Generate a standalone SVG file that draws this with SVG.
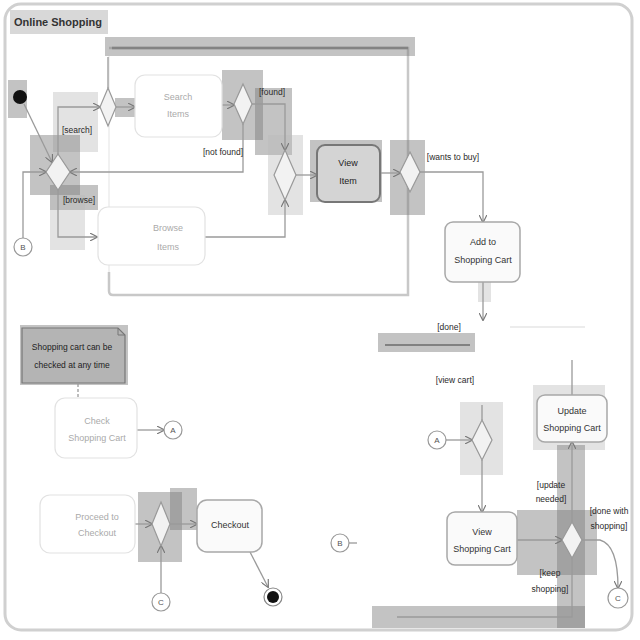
<svg xmlns="http://www.w3.org/2000/svg" width="640" height="640" viewBox="0 0 640 640">
  <style>
    text { font-family: "Liberation Sans", Arial, sans-serif; font-size: 9px; fill: #555; text-anchor: middle; }
    .guard { font-size: 8.5px; fill: #2a2a2a; }
    .faintText { fill: #aaa; }
    .act { fill: #fafafa; stroke: #a8a8a8; stroke-width: 1.5; }
    .actFaint { fill: #fff; stroke: #e2e2e2; stroke-width: 1.2; }
    .dec { fill: #f2f2f2; stroke: #999; stroke-width: 1.2; }
    .flow { fill: none; stroke: #9a9a9a; stroke-width: 1.3; }
    .region { fill: none; stroke: #c8c8c8; stroke-width: 2.5; }
    .conn { fill: #fff; stroke: #999; stroke-width: 1.2; }
    .patch { fill: #7a7a7a; fill-opacity: 0.45; }
    .patchLight { fill: #b8b8b8; fill-opacity: 0.4; }
  </style>
  <defs>
    <marker id="arrow" viewBox="0 0 10 10" refX="9" refY="5" markerWidth="6" markerHeight="6" orient="auto-start-reverse">
      <path d="M0,0 L10,5 L0,10" fill="none" stroke="#777" stroke-width="1.5"/>
    </marker>
  </defs>

  <rect width="640" height="640" fill="#fff"/>

  <!-- activity frame -->
  <g id="frame">
    <rect x="5" y="4" width="627" height="626" rx="16" fill="none" stroke="#d0d0d0" stroke-width="3"/>
    <rect x="10" y="10" width="98" height="24" fill="#d8d8d8"/>
    <text x="58" y="26" style="font-weight:bold;font-size:11px;fill:#333">Online Shopping</text>
  </g>

  <!-- activity regions -->
  <g id="regions">
    <path class="region" d="M109,48 H408 V295 H113 Q109,295 109,291 V272"/>
    <path d="M109,272 V56" fill="none" stroke="#ececec" stroke-width="1.5"/>
    <line x1="112" y1="48" x2="408" y2="48" stroke="#8a8a8a" stroke-width="2.5"/>
    <line x1="385" y1="345" x2="470" y2="345" stroke="#888" stroke-width="2"/>
    <line x1="510" y1="327" x2="585" y2="327" stroke="#e6e6e6" stroke-width="1.5"/>
  </g>

  <!-- highlight patches -->
  <g id="patches">
    <rect class="patch" x="105" y="37" width="310" height="19"/>
    <rect class="patch" x="8" y="80" width="19" height="38"/>
    <rect class="patchLight" x="53" y="92" width="45" height="60"/>
    <rect class="patch" x="30" y="135" width="50" height="60"/>
    <rect class="patch" x="50" y="185" width="48" height="25"/>
    <rect class="patchLight" x="50" y="195" width="35" height="55"/>
    <rect class="patch" x="115" y="98" width="25" height="19"/>
    <rect class="patch" x="222" y="70" width="41" height="70"/>
    <rect class="patch" x="255" y="88" width="37" height="67"/>
    <rect class="patchLight" x="268" y="135" width="35" height="80"/>
    <rect class="patch" x="310" y="140" width="72" height="62"/>
    <rect class="patch" x="390" y="140" width="35" height="75"/>
    <rect class="patch" x="20" y="325" width="108" height="60"/>
    <rect class="patch" x="138" y="492" width="44" height="70"/>
    <rect class="patch" x="170" y="488" width="27" height="42"/>
    <rect class="patch" x="378" y="333" width="97" height="19"/>
    <rect class="patchLight" x="460" y="402" width="43" height="73"/>
    <rect class="patchLight" x="533" y="385" width="72" height="65"/>
    <rect class="patch" x="517" y="510" width="80" height="65"/>
    <rect class="patch" x="557" y="445" width="28" height="183"/>
    <rect class="patch" x="372" y="606" width="213" height="22"/>
    <rect class="patchLight" x="478" y="282" width="13" height="20"/>
  </g>

  <!-- connectors -->
  <g id="connectors">
    <path class="flow" d="M24,104 L52,162" marker-end="url(#arrow)"/>
    <path class="flow" d="M23,238 V172 H46" marker-end="url(#arrow)"/>
    <path class="flow" d="M58,154 V107 H100" marker-end="url(#arrow)"/>
    <path class="flow" d="M108,88 V57"/>
    <path class="flow" d="M116,107 H135" marker-end="url(#arrow)"/>
    <path class="flow" d="M222,105 H234" marker-end="url(#arrow)"/>
    <path class="flow" d="M252,104 H285 V150" marker-end="url(#arrow)"/>
    <path class="flow" d="M243,124 V172 H70" marker-end="url(#arrow)"/>
    <path class="flow" d="M58,190 V237 H97" marker-end="url(#arrow)"/>
    <path class="flow" d="M205,237 H285 V200" marker-end="url(#arrow)"/>
    <path class="flow" d="M296,175 H317" marker-end="url(#arrow)"/>
    <path class="flow" d="M380,173 H400" marker-end="url(#arrow)"/>
    <path class="flow" d="M420,172 H483 V222" marker-end="url(#arrow)"/>
    <path class="flow" d="M483,282 V320" marker-end="url(#arrow)"/>
    <path class="flow" d="M482,405 V420"/>
    <path class="flow" d="M446,440 H472" marker-end="url(#arrow)"/>
    <path class="flow" d="M482,460 V512" marker-end="url(#arrow)"/>
    <path class="flow" d="M517,540 H562" marker-end="url(#arrow)"/>
    <path class="flow" d="M572,522 V442" marker-end="url(#arrow)"/>
    <path class="flow" d="M572,395 V360"/>
    <path class="flow" d="M582,540 H600 Q618,545 618,588" marker-end="url(#arrow)"/>
    <path class="flow" d="M572,558 V617 H397" stroke-width="2.5" stroke="#777"/>
    <path class="flow" d="M349,543 H357"/>
    <path class="flow" d="M78,384 V398" stroke-dasharray="3 2" stroke="#ddd"/>
    <path class="flow" d="M137,430 H164" marker-end="url(#arrow)"/>
    <path class="flow" d="M135,524 H152" marker-end="url(#arrow)"/>
    <path class="flow" d="M170,524 H197" marker-end="url(#arrow)"/>
    <path class="flow" d="M161,593 V546" marker-end="url(#arrow)"/>
    <path class="flow" d="M250,552 L268,587" marker-end="url(#arrow)"/>
  </g>

  <!-- nodes -->
  <g id="initial"><circle cx="20" cy="97" r="7" fill="#111"/></g>

  <g id="decision-start"><polygon class="dec" points="58,154 70,172 58,190 46,172"/>
    <text class="guard" x="77" y="133">[search]</text>
    <text class="guard" x="79" y="203">[browse]</text></g>

  <g id="decision-search"><polygon class="dec" points="108,88 116,107 108,126 100,107"/></g>

  <g id="search-items"><rect class="actFaint" x="135" y="75" width="87" height="62" rx="10"/>
    <text class="faintText" x="178" y="100">Search</text><text class="faintText" x="178" y="117">Items</text></g>

  <g id="decision-found"><polygon class="dec" points="243,84 252,104 243,124 234,104"/>
    <text class="guard" x="272" y="95">[found]</text>
    <text class="guard" x="223" y="155">[not found]</text></g>

  <g id="browse-items"><rect class="actFaint" x="98" y="207" width="107" height="58" rx="10"/>
    <text class="faintText" x="168" y="231">Browse</text><text class="faintText" x="168" y="250">Items</text></g>

  <g id="merge-view"><polygon class="dec" points="285,150 296,175 285,200 274,175"/></g>

  <g id="view-item"><rect x="317" y="145" width="63" height="57" rx="8" fill="#d4d4d4" stroke="#777" stroke-width="2"/>
    <text x="348" y="166" style="fill:#222">View</text><text x="348" y="184" style="fill:#222">Item</text></g>

  <g id="decision-buy"><polygon class="dec" points="410,152 420,172 410,192 400,172"/>
    <text class="guard" x="453" y="160">[wants to buy]</text></g>

  <g id="add-to-cart"><rect class="act" x="445" y="222" width="75" height="60" rx="8"/>
    <text x="483" y="245" style="fill:#333">Add to</text><text x="483" y="263" style="fill:#333">Shopping Cart</text>
    <text class="guard" x="449" y="330">[done]</text></g>

  <g id="connector-b-in"><circle class="conn" cx="23" cy="247" r="9"/><text x="23" y="250" style="font-size:8px">B</text></g>

  <g id="note"><path d="M22,328 H118 L125,335 V383 H22 Z" fill="#b4b4b4" stroke="#777" stroke-width="1.2"/>
    <path d="M118,328 V335 H125" fill="none" stroke="#777"/>
    <text x="72" y="350" style="fill:#222;font-size:8.5px">Shopping cart can be</text>
    <text x="72" y="368" style="fill:#222;font-size:8.5px">checked at any time</text></g>

  <g id="check-cart"><rect class="actFaint" x="55" y="398" width="82" height="60" rx="10"/>
    <text class="faintText" x="97" y="424">Check</text><text class="faintText" x="97" y="441">Shopping Cart</text></g>

  <g id="connector-a-out"><circle class="conn" cx="173" cy="430" r="9"/><text x="173" y="433" style="font-size:8px">A</text></g>

  <g id="proceed"><rect class="actFaint" x="40" y="495" width="95" height="58" rx="10"/>
    <text class="faintText" x="97" y="520">Proceed to</text><text class="faintText" x="97" y="536">Checkout</text></g>

  <g id="decision-checkout"><polygon class="dec" points="161,502 170,524 161,546 152,524"/></g>

  <g id="checkout"><rect class="act" x="197" y="500" width="65" height="52" rx="10"/>
    <text x="230" y="528" style="fill:#333">Checkout</text></g>

  <g id="final"><circle cx="273" cy="597" r="9" fill="#fff" stroke="#888" stroke-width="1.2"/><circle cx="273" cy="597" r="6" fill="#111"/></g>

  <g id="connector-c-in"><circle class="conn" cx="161" cy="602" r="9"/><text x="161" y="605" style="font-size:8px">C</text></g>

  <g id="connector-b-out"><circle class="conn" cx="340" cy="543" r="9"/><text x="340" y="546" style="font-size:8px">B</text></g>

  <g id="connector-a-in"><circle class="conn" cx="437" cy="440" r="9"/><text x="437" y="443" style="font-size:8px">A</text>
    <text class="guard" x="455" y="383">[view cart]</text></g>

  <g id="merge-cart"><polygon class="dec" points="482,420 492,440 482,460 472,440"/></g>

  <g id="view-cart"><rect class="act" x="447" y="512" width="70" height="53" rx="8"/>
    <text x="482" y="535" style="fill:#333">View</text><text x="482" y="552" style="fill:#333">Shopping Cart</text></g>

  <g id="update-cart"><rect class="act" x="537" y="395" width="70" height="47" rx="8"/>
    <text x="572" y="414" style="fill:#333">Update</text><text x="572" y="431" style="fill:#333">Shopping Cart</text></g>

  <g id="decision-cart"><polygon class="dec" points="572,522 582,540 572,558 562,540"/>
    <text class="guard" x="551" y="488">[update</text><text class="guard" x="551" y="502">needed]</text>
    <text class="guard" x="609" y="514">[done with</text><text class="guard" x="609" y="529">shopping]</text>
    <text class="guard" x="550" y="576">[keep</text><text class="guard" x="550" y="592">shopping]</text></g>

  <g id="connector-c-out"><circle class="conn" cx="618" cy="598" r="10"/><text x="618" y="601" style="font-size:8px">C</text></g>
</svg>
